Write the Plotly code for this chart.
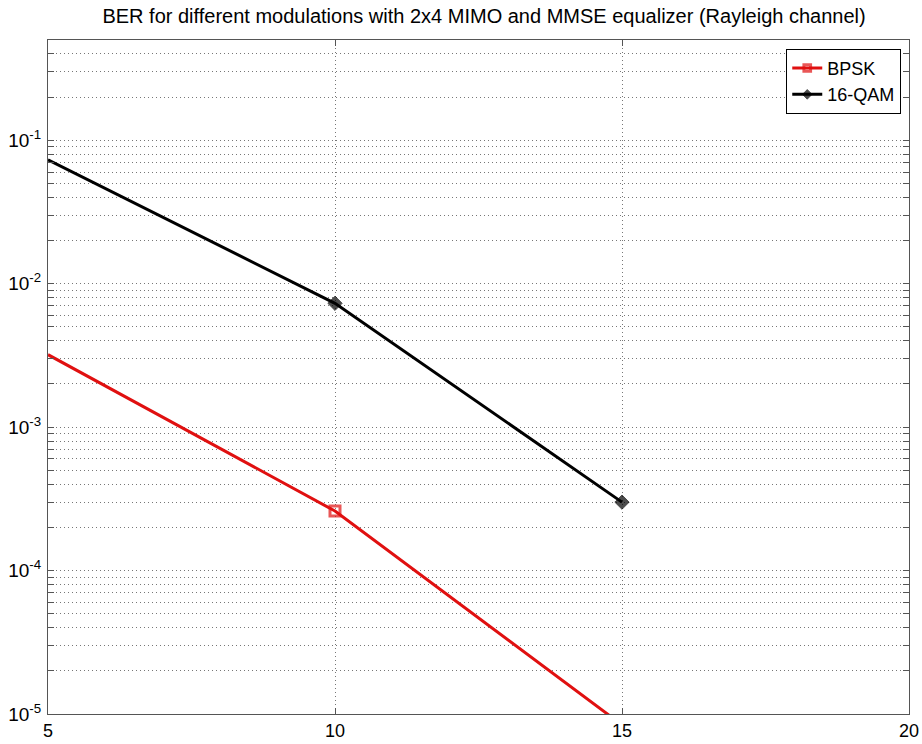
import math
import plotly.graph_objects as go

# Data
snr = [5, 10, 15]
ber_bpsk = [3.2e-3, 2.6e-4, 8.4e-6]
ber_qam16 = [7.3e-2, 7.3e-3, 3.0e-4]
marker_sizes = [0, 10, 10]        # first point lies on the axis edge; no marker drawn there
marker_sizes_q = [0, 11, 11]

x_ticks = [5, 10, 15, 20]
decades = [-5, -4, -3, -2, -1]
y_min, y_max = 1e-5, 0.5

# log-axis ticks: every 1..9 of each decade, labels only on decades
tickvals, ticktext = [], []
for d in decades:
    for m in range(1, 10):
        v = m * 10.0 ** d
        if v <= y_max + 1e-12:
            tickvals.append(v)
            ticktext.append(f"10<sup>{d}</sup>" if m == 1 else "")

fig = go.Figure()
fig.add_trace(go.Scatter(
    x=snr, y=ber_bpsk, name="BPSK", mode="lines+markers",
    line=dict(color="#e01010", width=3),
    marker=dict(symbol="square-open", size=marker_sizes, color="#e01010",
                line=dict(width=3, color="#e01010")),
))
fig.add_trace(go.Scatter(
    x=snr, y=ber_qam16, name="16-QAM", mode="lines+markers",
    line=dict(color="black", width=3),
    marker=dict(symbol="diamond", size=marker_sizes_q, color="black",
                line=dict(width=1, color="black")),
))

font_family = "Liberation Sans, Arial, sans-serif"

fig.update_layout(
    template="none",
    width=922, height=744,
    margin=dict(l=48, r=13, t=40, b=30, autoexpand=False),
    paper_bgcolor="white", plot_bgcolor="white",
    font=dict(family=font_family, color="black"),
    title=dict(text="BER for different modulations with 2x4 MIMO and MMSE equalizer (Rayleigh channel)",
               x=0.525, xanchor="center", y=0.979, yanchor="middle",
               font=dict(size=20, family=font_family, color="black")),
    showlegend=True,
    legend=dict(x=0.991, xanchor="right", y=0.987, yanchor="top",
                bgcolor="white", bordercolor="black", borderwidth=1,
                font=dict(size=18, family=font_family), tracegroupgap=0),
)

grid_kw = dict(showgrid=True, gridcolor="#777", griddash="1px,3px", gridwidth=1)

fig.update_xaxes(
    automargin=False,
    range=[5, 20], tickvals=x_ticks, ticktext=[str(v) for v in x_ticks],
    ticks="inside", ticklen=6, tickcolor="#555", mirror="allticks",
    showline=True, linecolor="#555", linewidth=1,
    zeroline=False, tickfont=dict(size=18), ticklabelstandoff=0, **grid_kw,
)
fig.update_yaxes(
    automargin=False,
    type="log", range=[math.log10(y_min), math.log10(y_max)],
    tickvals=tickvals, ticktext=ticktext,
    ticks="inside", ticklen=6, tickcolor="#555", mirror="allticks",
    showline=True, linecolor="#555", linewidth=1,
    zeroline=False, tickfont=dict(size=19), ticklabelstandoff=2, **grid_kw,
)

fig.write_html("out.html")
